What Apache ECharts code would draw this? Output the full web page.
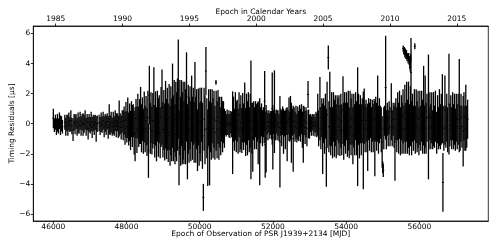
<!DOCTYPE html>
<html><head><meta charset="utf-8">
<script src="https://cdn.jsdelivr.net/npm/echarts@6/dist/echarts.min.js"></script>
<style>html,body{margin:0;padding:0;background:#fff}#c{width:498px;height:249px}</style>
</head><body><div id="c"></div>
<script>
// Observation epochs (MJD), timing residuals (us) and 1-sigma uncertainties (us)
const mjd = [
46002,46030,46058,46085,46113,46140,46168,46196,46225,46250,
46315,46342,46370,46398,46425,46452,46480,46508,46540,46568,46595,46622,46650,46678,46705,46733,46760,46788,46815,46843,46870,46898,46925,46952,46980,47008,47035,47062,47090,47118,47145,47172,47200,
47252,47280,47308,47335,47362,47390,47418,47445,47472,47500,47528,47555,47582,47610,47638,47665,47692,47720,47748,47775,47800,47828,47855,47882,
47910,47935,47960,47985,48010,48035,48060,48085,48110,48135,48160,48185,48210,48235,48260,48285,48310,48335,48360,48385,48410,48435,48460,48485,48510,48535,48560,48585,48600,48625,48650,
48670,48695,48720,48748,48772,48795,48820,48845,48870,48895,48920,48945,48970,48995,49020,49045,
49068,49092,49115,49140,49165,49190,49212,49235,49258,49280,49303,49325,49348,49370,49392,49415,49435,49458,49480,49503,49525,49548,49570,49593,49615,49640,49665,49688,49710,
49735,49758,49780,49803,49825,49848,49870,49893,49915,49940,49962,49985,50008,50030,50052,50075,50100,50120,50145,50170,
50195,50220,50245,50270,50293,50317,50340,50365,50390,50415,50445,50450,50475,50500,50525,50550,50575,50600,50625,50650,50675,
50700,50725,50750,50775,50800,50825,50850,50875,
50900,50925,50950,50975,51000,51025,51050,51075,51100,51125,51150,51175,51200,51230,51255,51280,51305,51330,51355,51380,51400,51425,51450,
51475,51500,51525,51550,51575,51598,51620,51640,51665,51690,51715,51740,51762,
51775,51790,51815,51840,51865,51890,51915,51940,51965,51982,51998,52020,52042,52065,52090,52115,52140,52165,52192,
52215,52240,52265,52290,52315,52340,52365,52390,52415,52440,52462,52480,52505,52530,52555,52580,52605,52630,52655,52680,52705,52730,
52755,52780,52805,52830,52855,52880,52905,52930,52960,52975,53000,53025,53050,53075,53100,53125,53150,53175,53200,53225,53250,53285,
53310,53335,53360,53385,53410,53435,53460,53480,53514,53530,53555,53580,53605,53630,53655,53680,53705,53730,53755,53780,53805,53830,
53855,53880,53915,53935,53960,53985,54010,54035,54060,54085,54110,54135,54160,54185,54210,54235,54260,54285,54315,54340,54365,
54390,54415,54440,54470,54495,54520,54545,54570,54590,54615,54640,54665,54690,54715,54740,54765,54785,54810,54835,54862,54885,54910,
54935,54960,54985,55000,55015,55030,55050,55080,55100,55125,55150,55175,55200,55235,55260,55285,55310,55335,
55360,55385,55410,55435,55460,55485,55510,55530,55555,55580,55605,55630,55655,55680,55705,55730,55755,55773,55790,
55815,55840,55865,55890,55915,55940,55965,55990,56015,56040,56065,56090,56118,56140,56160,56185,56210,56250,
56265,56290,56315,56340,56365,56390,56415,56440,56475,56500,56525,56550,56575,56600,56630,56645,56670,56700,56725,56750,56775,56810,56835,
56860,56885,56910,56935,56960,56985,57010,57035,57060,57092,57115,57140,57165,57198,57220,57245,57270,57295,57320
];
const residual = [
0.35,-0.10,0.10,-0.20,0.05,-0.15,0.20,-0.10,0.00,-0.20,
0.10,-0.20,0.05,-0.10,0.15,-0.05,0.20,-0.15,-0.40,0.10,-0.05,0.15,-0.20,0.05,-0.10,0.20,-0.15,0.10,-0.05,0.00,0.25,-0.20,0.10,-0.30,0.05,-0.10,0.15,-0.25,0.05,-0.10,0.10,-0.35,0.00,
0.05,-0.15,0.10,-0.05,0.20,-0.20,0.05,-0.10,0.15,-0.25,0.30,-0.10,0.10,-0.20,0.05,-0.15,0.20,-0.10,0.10,-0.20,0.35,0.00,-0.25,0.15,
-0.10,0.20,-0.30,0.25,-0.20,0.40,-0.35,0.10,-0.45,0.30,-0.15,0.20,-0.60,-0.70,0.35,-0.40,0.50,-0.20,0.15,0.55,-0.30,0.30,-0.50,0.45,-0.35,0.20,-0.55,0.40,-1.80,1.90,-0.30,
0.40,-0.45,0.20,1.20,-0.50,0.35,-0.70,0.50,-0.25,0.30,-0.60,0.45,1.10,-0.40,0.25,-0.55,
0.60,-0.35,0.30,-0.60,0.45,-0.80,0.20,-0.40,1.20,-0.30,0.50,-0.70,0.30,-0.20,0.60,2.30,-1.60,0.40,-0.50,0.70,-0.30,0.20,-0.60,0.50,-0.20,1.80,-1.20,0.30,-0.40,
0.40,-0.50,1.00,-0.30,0.50,-0.60,1.40,-0.40,0.30,-1.10,0.45,-0.70,0.20,-0.50,0.60,-0.80,-4.90,0.30,-0.40,3.50,
-0.30,-1.60,0.40,-1.30,0.20,-0.50,0.50,-0.30,0.30,-0.60,2.75,0.20,-0.40,0.45,-0.30,0.10,-0.50,0.30,-0.20,0.10,-0.30,
0.05,-0.10,0.10,-0.05,0.00,-0.15,0.10,-0.05,
-0.60,0.30,-0.40,0.50,-0.20,0.20,-0.50,0.60,-0.30,0.10,-0.45,0.40,-0.20,0.75,-0.55,0.30,-0.30,0.50,-0.40,0.20,0.25,-0.30,-0.90,
0.20,-0.30,0.30,-0.20,0.10,-0.60,0.20,-1.20,-0.10,0.25,-0.30,0.10,-0.20,
1.50,-1.40,-1.00,0.10,-0.20,0.15,-0.15,0.05,-0.10,1.00,-0.90,0.10,0.80,-0.20,0.15,-0.10,0.05,-0.25,-1.20,
0.10,-0.30,0.20,-0.50,0.00,-0.40,0.15,-0.70,0.10,0.30,-0.20,0.40,-0.60,0.10,-1.00,0.20,-0.20,0.10,-0.30,0.05,-0.15,0.20,
-0.10,0.30,-0.40,-0.70,0.20,-0.25,0.10,-0.30,1.95,0.00,-0.20,0.05,-0.15,0.10,-0.10,0.05,-0.20,0.10,-0.10,0.60,-0.30,1.00,
-0.30,0.40,-1.00,0.20,-0.40,0.50,-1.60,0.60,4.40,-0.20,1.00,-0.50,0.30,-0.60,0.45,-0.30,0.20,-0.50,0.40,-0.20,0.30,-0.45,
0.20,-0.40,0.90,-0.50,0.30,-0.30,0.50,-0.40,0.20,-0.60,0.40,-0.20,0.30,-0.80,0.20,-0.40,0.50,-0.30,-0.20,0.30,-0.50,
0.30,-0.40,0.20,-1.10,0.50,-0.30,0.20,-0.40,-0.90,0.30,-0.20,0.35,-0.40,0.20,-0.30,0.25,-1.00,0.30,-0.20,1.00,-0.40,0.20,
0.10,-0.40,-1.20,-2.90,-3.10,-0.30,0.20,2.40,-0.40,0.30,-0.30,0.40,-0.20,0.80,-0.30,0.30,-0.20,-1.20,
0.30,-0.40,0.50,-0.30,0.60,-0.50,0.40,-0.30,0.50,-0.40,0.70,-0.30,0.80,-0.20,0.60,-0.40,0.50,3.40,-0.30,
0.40,-0.30,0.60,-0.40,0.50,-0.20,0.30,-0.50,0.40,-0.30,0.50,-0.20,1.20,-0.40,0.80,-0.30,0.40,0.45,
-0.30,0.50,-0.20,0.40,-0.40,0.30,-0.20,0.50,-0.60,0.30,-0.30,0.40,-0.20,0.30,1.00,-3.90,-0.30,0.90,-0.20,0.40,-0.40,1.30,-0.10,
0.40,-0.30,0.50,-0.20,0.30,-0.40,0.40,-0.20,0.30,1.20,-0.30,0.40,-0.20,-0.50,0.50,-0.30,0.40,-0.20,0.30
];
const uncertainty = [
0.65,0.45,0.50,0.55,0.60,0.50,0.55,0.65,0.50,0.45,
0.50,0.60,0.55,0.70,0.60,0.50,0.70,0.55,0.75,0.55,0.65,0.50,0.60,0.70,0.55,0.60,0.65,0.55,0.75,0.60,0.65,0.60,0.55,0.75,0.60,0.55,0.65,0.70,0.55,0.65,0.50,0.85,0.55,
0.55,0.60,0.65,0.55,0.60,0.70,0.60,0.65,0.55,0.75,1.00,0.65,0.70,0.60,0.75,0.65,0.70,0.80,0.60,0.75,1.20,0.70,0.80,0.75,
1.00,0.95,1.10,1.20,1.05,1.35,1.10,1.25,1.30,1.20,1.40,1.10,1.45,1.80,1.30,1.55,1.50,1.35,1.50,1.90,1.60,1.45,1.50,1.70,1.55,1.65,1.60,1.80,1.80,1.95,1.70,
1.70,1.60,1.85,2.55,1.75,1.80,1.80,1.70,1.95,1.60,1.70,2.00,2.50,1.85,2.00,1.90,
2.25,2.00,2.10,1.95,2.20,2.00,2.30,2.10,2.80,2.20,2.40,2.00,2.50,2.30,2.40,3.30,2.50,2.50,2.30,2.20,2.40,2.60,2.10,2.30,2.50,2.95,2.50,2.30,2.20,
2.10,2.00,2.20,2.10,1.90,2.00,2.70,2.20,2.00,2.05,1.90,2.10,2.20,2.00,1.80,2.20,0.90,2.10,2.30,1.60,
2.00,2.55,1.90,2.80,2.10,1.90,1.80,2.00,1.90,1.80,0.15,2.00,1.90,1.80,2.10,1.70,1.60,1.50,1.70,1.40,1.30,
0.80,0.75,0.85,0.70,0.90,0.80,0.75,0.85,
2.75,1.50,1.40,1.60,1.70,1.40,1.50,1.50,1.60,1.80,1.50,1.65,1.55,2.00,1.60,1.70,1.80,1.60,1.50,1.80,3.95,1.70,2.30,
1.30,1.40,1.20,1.50,1.30,2.10,1.20,2.90,1.20,1.10,1.20,1.00,1.10,
2.00,2.20,2.25,0.80,0.90,0.75,0.85,0.80,0.95,2.40,2.15,0.80,2.75,0.90,0.80,1.00,0.85,0.90,3.05,
0.90,1.20,0.95,1.50,0.85,1.30,0.90,1.80,0.80,1.45,1.00,1.45,2.00,0.90,2.20,0.90,1.00,1.10,0.95,1.10,1.00,1.05,
1.10,1.00,1.20,1.90,0.95,1.10,1.00,1.20,0.90,0.95,0.80,0.60,0.65,0.55,0.70,0.60,0.65,0.70,0.80,1.40,1.20,2.10,
1.40,1.30,2.35,1.50,1.60,1.50,2.60,2.20,0.80,1.70,2.45,1.60,1.80,1.70,1.65,1.90,1.70,1.80,1.50,1.90,1.60,1.70,
1.80,1.70,2.25,1.90,1.80,1.70,1.60,1.80,2.00,1.70,1.80,1.90,1.70,1.90,1.80,1.70,1.60,1.80,3.95,1.70,1.80,
1.60,1.70,1.50,3.25,1.85,1.60,1.40,1.50,2.25,1.40,1.60,1.30,1.50,1.40,1.60,1.40,2.50,1.50,1.60,2.20,1.60,1.50,
1.10,1.50,1.70,0.40,0.45,1.40,1.00,3.45,1.30,1.10,1.20,1.10,1.30,1.90,1.20,1.10,1.40,2.60,
1.40,1.50,1.60,1.70,1.60,1.60,1.50,1.70,1.80,1.60,1.90,1.70,2.00,1.80,2.20,1.70,2.00,2.30,1.80,
1.60,1.50,1.70,1.60,1.80,1.70,1.90,1.60,1.80,1.50,1.70,1.80,2.65,1.60,2.40,1.70,1.60,4.15,
1.40,1.60,1.50,1.70,1.30,1.80,1.40,1.70,1.40,1.60,1.40,1.90,1.50,1.70,2.30,1.95,1.50,2.30,1.40,1.60,1.50,3.35,1.40,
1.50,1.40,1.60,1.50,1.70,1.40,1.60,1.50,1.70,3.10,1.50,1.60,1.40,2.35,1.60,1.50,2.20,1.40,1.30
];
// Offset group of TOAs around 2011
const offsetMjd = [55560,55575,55590,55605,55620,55635,55650,55665,55680,55695,55710,55725,55740,55752,55765,55878];
const offsetResidual = [5.00,4.85,4.90,4.70,4.75,4.55,4.60,4.40,4.50,4.30,4.45,4.20,4.00,3.80,4.35,5.15];
const offsetUncertainty = [0.20,0.25,0.20,0.30,0.25,0.25,0.30,0.25,0.20,0.30,0.25,0.30,0.35,0.35,0.30,0.20];

const mjdTicks = [46000,48000,50000,52000,54000,56000];
const yearTicks = [1985,1990,1995,2000,2005,2010,2015];
const resTicks = [-6,-4,-2,0,2,4,6];

const MJD_MIN = 45454, MJD_MAX = 57885;
const toYear = m => 1985 + (m - 46066) / 365.25;

function build(a, b, c) {
  const n = Math.min(a.length, b.length, c.length);
  const out = [];
  for (let i = 0; i < n; i++) out.push([a[i], b[i], c[i]]);
  return out;
}
const data = build(mjd, residual, uncertainty).concat(build(offsetMjd, offsetResidual, offsetUncertainty));

const FONT = 'DejaVu Sans';
const txt = {fontFamily: FONT, fontSize: 7.5, color: '#000'};

function renderItem(params, api) {
  const x = api.value(0), y = api.value(1), e = api.value(2);
  const top = api.coord([x, y + e]);
  const bot = api.coord([x, y - e]);
  const c = api.coord([x, y]);
  return {
    type: 'group',
    children: [
      {type: 'line', shape: {x1: top[0], y1: top[1], x2: bot[0], y2: bot[1]}, style: {stroke: '#000', lineWidth: 1.3}},
      {type: 'line', shape: {x1: c[0] - 1, y1: c[1], x2: c[0] + 1, y2: c[1]}, style: {stroke: '#000', lineWidth: 1}}
    ]
  };
}

const chart = echarts.init(document.getElementById('c'), null, {renderer: 'canvas'});
chart.setOption({
  animation: false,
  grid: {left: 33.3, right: 9.7, top: 26, bottom: 28, outerBoundsMode: 'none', containLabel: false,
         show: true, borderColor: '#000', borderWidth: 0.8, backgroundColor: 'transparent'},
  xAxis: [
    {
      type: 'value', position: 'bottom', min: MJD_MIN, max: MJD_MAX,
      name: 'Epoch of Observation of PSR J1939+2134 [MJD]', nameLocation: 'middle', nameGap: 9, nameMoveOverlap: false,
      nameTextStyle: txt,
      axisLine: {show: true, onZero: false, lineStyle: {color: '#000', width: 0.8}},
      axisTick: {show: true, length: 2.5, customValues: mjdTicks, lineStyle: {color: '#000', width: 0.8}},
      axisLabel: {customValues: mjdTicks, margin: 2.5, ...txt, formatter: v => String(v)},
      splitLine: {show: false}
    },
    {
      type: 'value', position: 'top', min: toYear(MJD_MIN), max: toYear(MJD_MAX),
      name: 'Epoch in Calendar Years', nameLocation: 'middle', nameGap: 10, nameMoveOverlap: false,
      nameTextStyle: txt,
      axisLine: {show: true, onZero: false, lineStyle: {color: '#000', width: 0.8}},
      axisTick: {show: true, length: 2.5, customValues: yearTicks, lineStyle: {color: '#000', width: 0.8}},
      axisLabel: {customValues: yearTicks, margin: 2.5, ...txt, formatter: v => String(Math.round(v))},
      splitLine: {show: false}
    }
  ],
  yAxis: {
    type: 'value', min: -6.47, max: 6.5,
    name: 'Timing Residuals [μs]', nameLocation: 'middle', nameGap: 17, nameRotate: 90, nameMoveOverlap: false,
    nameTextStyle: txt,
    axisLine: {show: true, onZero: false, lineStyle: {color: '#000', width: 0.8}},
    axisTick: {show: true, length: 2.5, customValues: resTicks, lineStyle: {color: '#000', width: 0.8}},
    axisLabel: {customValues: resTicks, margin: 3, ...txt, formatter: v => (v < 0 ? '\u2212' + Math.abs(v) : String(v))},
    splitLine: {show: false}
  },
  series: [{
    type: 'custom', xAxisIndex: 0, yAxisIndex: 0,
    renderItem: renderItem, encode: {x: 0, y: 1}, clip: true,
    data: data
  }]
});
</script>
</body></html>
